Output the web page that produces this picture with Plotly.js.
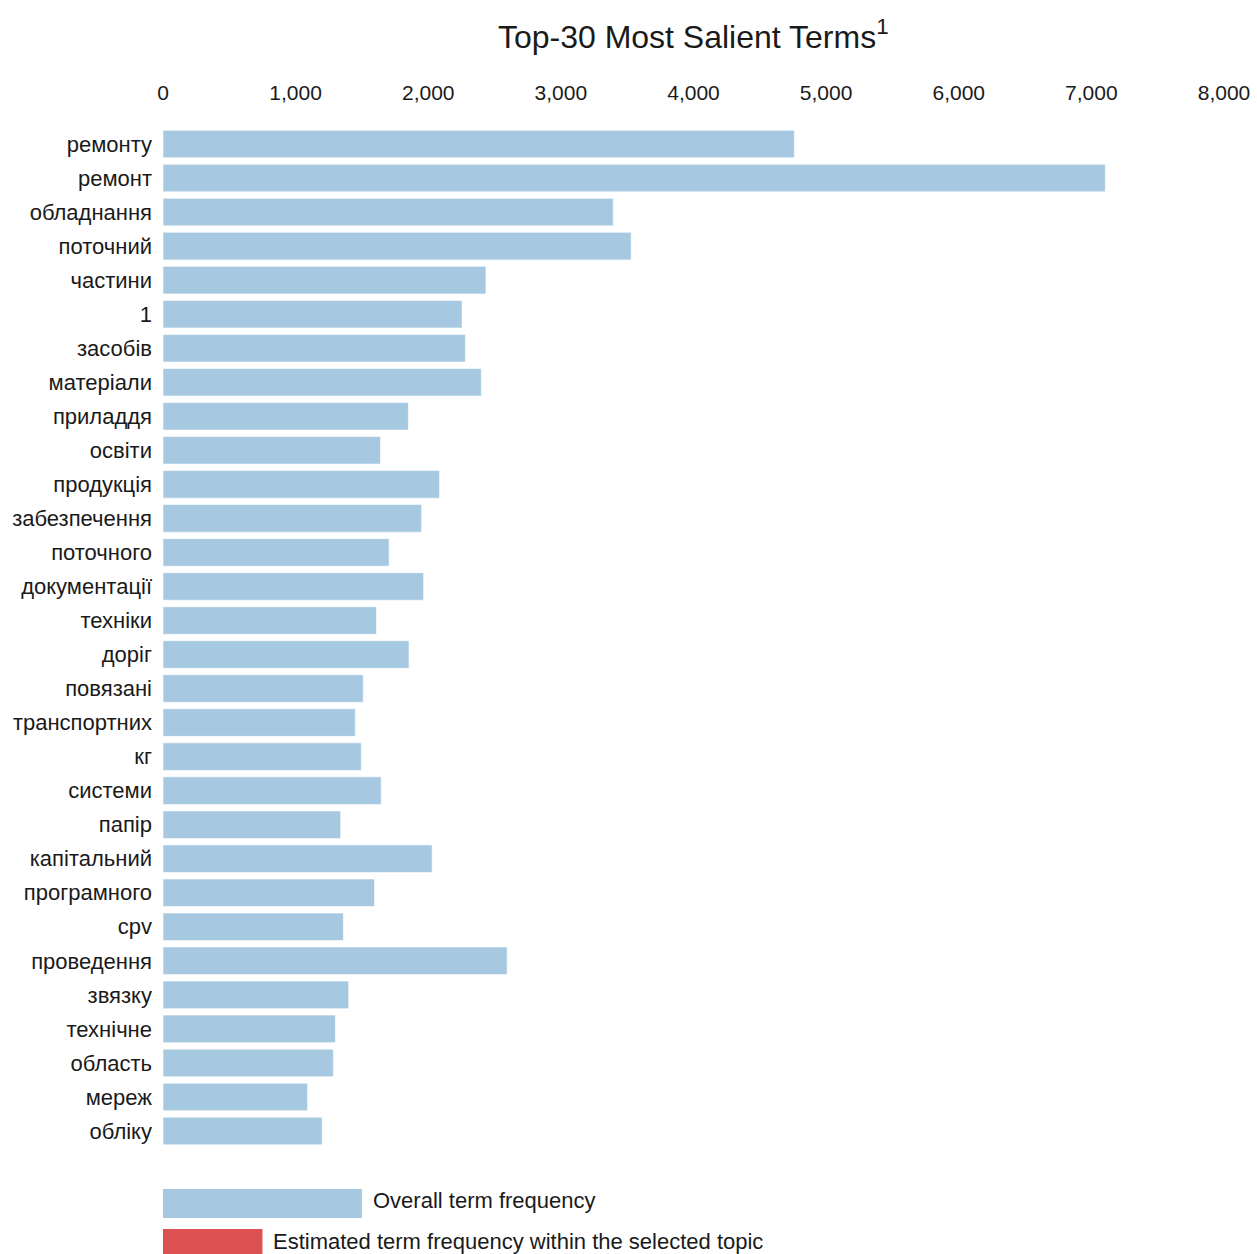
<!DOCTYPE html>
<html>
<head>
<meta charset="utf-8">
<script src="https://cdn.plot.ly/plotly-3.0.1.min.js"></script>
<style>html,body{margin:0;padding:0;background:#fff;}#chart{width:1257px;height:1254px;}</style>
</head>
<body>
<div id="chart"></div>
<script>
// Terms, top to bottom
const terms = ["ремонту","ремонт","обладнання","поточний","частини","1","засобів","матеріали","приладдя","освіти",
  "продукція","забезпечення","поточного","документації","техніки","доріг","повязані","транспортних","кг","системи",
  "папір","капітальний","програмного","cpv","проведення","звязку","технічне","область","мереж","обліку"];
// Overall term frequency
const overallFreq = [4760,7105,3395,3530,2435,2255,2280,2400,1850,1640,
  2085,1950,1705,1965,1610,1855,1510,1450,1495,1645,
  1340,2030,1595,1360,2595,1400,1300,1285,1090,1200];
const xTicks = [0,1000,2000,3000,4000,5000,6000,7000,8000];
const xTickText = ["0","1,000","2,000","3,000","4,000","5,000","6,000","7,000","8,000"];
const legendLabels = ["Overall term frequency","Estimated term frequency within the selected topic"];

const blue = "#a6c8e0";
const red = "#dd5152";
const font = "Liberation Sans, Arial, sans-serif";

const trace = {
  type: "bar",
  orientation: "h",
  x: overallFreq,
  y: terms,
  marker: {color: blue, line: {color: "rgba(255,255,255,0.6)", width: 1}},
  hoverinfo: "x+y"
};

const layout = {
  width: 1257, height: 1254,
  margin: {l: 163, r: 33, t: 127, b: 106},
  paper_bgcolor: "#fff", plot_bgcolor: "#fff",
  bargap: 0.19,
  showlegend: false,
  title: {
    text: "Top-30 Most Salient Terms<sup>1</sup>",
    font: {family: font, size: 32, color: "#1a1a1a"},
    x: 0.5515, xanchor: "center",
    y: 0.971, yanchor: "middle", yref: "container"
  },
  xaxis: {
    side: "top", range: [0, 8000],
    tickvals: xTicks, ticktext: xTickText,
    showgrid: false, zeroline: false, showline: false,
    ticks: "", ticklabelstandoff: 22, automargin: false,
    tickfont: {family: font, size: 21, color: "#1a1a1a"}
  },
  yaxis: {
    type: "category", categoryorder: "array", categoryarray: terms,
    autorange: "reversed",
    showgrid: false, zeroline: false, showline: false,
    ticks: "", ticklabelstandoff: 10, automargin: false,
    tickfont: {family: font, size: 22, color: "#1a1a1a"}
  },
  shapes: [
    {type: "rect", xref: "x", yref: "paper", x0: 0, x1: 1500, y0: -0.0686, y1: -0.0402,
     fillcolor: blue, line: {width: 0}},
    {type: "rect", xref: "x", yref: "paper", x0: 0, x1: 750, y0: -0.115, y1: -0.0793,
     fillcolor: red, line: {width: 0}}
  ],
  annotations: [
    {xref: "x", yref: "paper", x: 1570, y: -0.0519, xanchor: "left", yanchor: "middle",
     text: legendLabels[0], showarrow: false, font: {family: font, size: 22, color: "#1a1a1a"}},
    {xref: "x", yref: "paper", x: 815, y: -0.0911, xanchor: "left", yanchor: "middle",
     text: legendLabels[1], showarrow: false, font: {family: font, size: 22, color: "#1a1a1a"}}
  ]
};

Plotly.newPlot("chart", [trace], layout, {displayModeBar: false, staticPlot: true});
</script>
</body>
</html>
